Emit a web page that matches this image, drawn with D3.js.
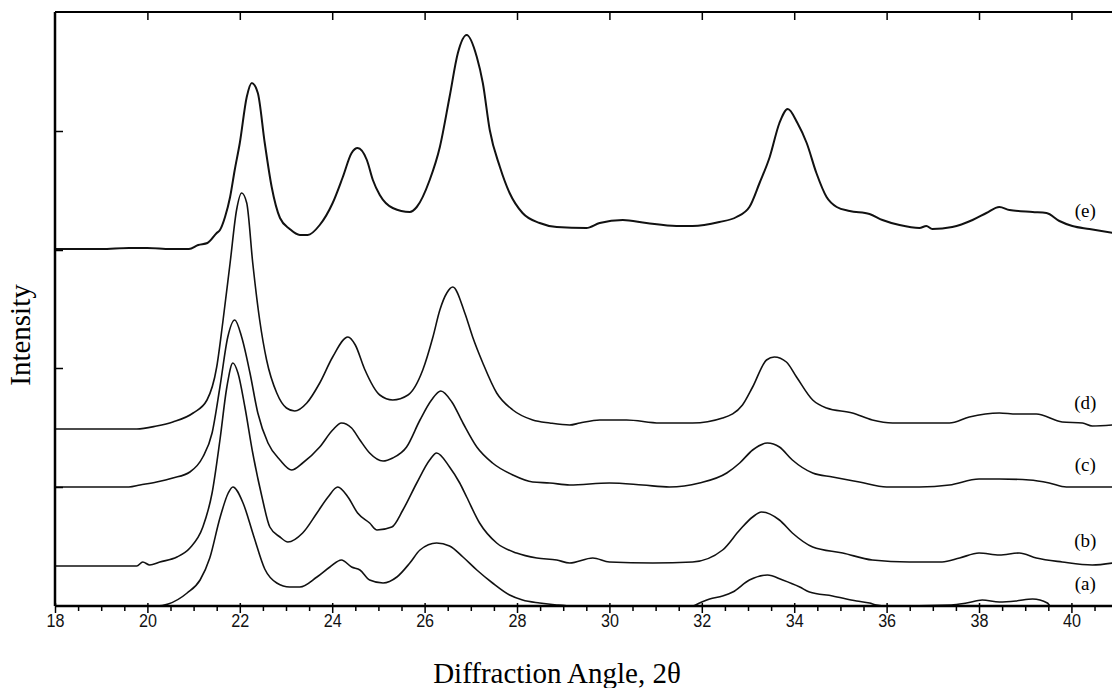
<!DOCTYPE html>
<html>
<head>
<meta charset="utf-8">
<script src="https://cdn.jsdelivr.net/npm/d3@7"></script>
<style>
  body { margin: 0; background: #fff; }
  svg { display: block; }
</style>
</head>
<body>
<div id="chart"></div>
<script>
// XRD patterns, [2theta, intensity above own baseline] (a.u.)
const patternA = [[18.0,0],[20.2,0],[20.45,2],[20.86,13],[21.14,26],[21.35,48],[21.57,88],[21.75,113],[21.85,119],[22.07,103],[22.3,70],[22.54,37],[22.8,23],[23.08,19],[23.3,19],[23.67,29],[23.95,39],[24.2,46],[24.42,39],[24.6,36],[24.81,26],[25.1,23],[25.4,29],[25.68,43],[25.9,56],[26.26,63],[26.54,60],[26.83,49],[27.13,36],[27.47,23],[27.84,11],[28.12,6],[28.49,3],[28.86,1],[29.2,0],[31.8,0],[31.95,3],[32.17,7],[32.45,10],[32.67,14],[33.03,26],[33.42,31],[33.75,26],[34.12,19],[34.33,14],[34.83,10],[35.35,5],[35.63,3],[35.78,1],[36.0,0],[37.4,1],[37.73,3],[38.07,6],[38.44,4],[38.8,5],[39.16,7],[39.48,3],[39.55,0],[40.9,0]];
const patternB = [[18.0,0],[19.77,0],[19.9,4],[20.05,1],[20.27,4],[20.64,9],[20.92,18],[21.2,39],[21.4,73],[21.57,126],[21.72,179],[21.85,203],[21.96,193],[22.11,159],[22.28,113],[22.48,69],[22.65,39],[22.87,29],[23.04,24],[23.36,33],[23.67,53],[23.91,69],[24.12,79],[24.34,69],[24.55,53],[24.81,43],[24.97,36],[25.29,39],[25.53,56],[25.83,83],[26.11,106],[26.26,113],[26.54,99],[26.76,83],[26.91,69],[27.19,43],[27.56,23],[27.99,13],[28.43,8],[28.86,6],[29.14,3],[29.64,8],[30.0,4],[30.94,3],[31.8,4],[32.45,16],[32.82,36],[33.1,49],[33.29,54],[33.68,46],[33.96,33],[34.4,19],[35.05,13],[35.69,6],[36.49,4],[37.2,4],[37.58,8],[38.0,13],[38.44,11],[38.87,13],[39.24,8],[39.8,4],[40.45,1],[40.9,3]];
const patternC = [[18.0,0],[19.6,0],[19.84,2],[20.2,5],[20.55,9],[20.92,15],[21.2,30],[21.4,54],[21.57,100],[21.74,150],[21.89,167],[22.04,150],[22.22,114],[22.39,74],[22.61,44],[22.87,27],[23.12,17],[23.36,24],[23.73,40],[24.01,57],[24.2,64],[24.42,59],[24.6,47],[24.81,34],[25.1,26],[25.31,29],[25.61,40],[25.9,67],[26.15,87],[26.35,96],[26.59,85],[26.83,64],[27.13,40],[27.47,24],[27.91,12],[28.34,5],[28.71,4],[29.14,2],[30.0,4],[30.72,2],[31.3,0],[31.95,4],[32.54,14],[32.82,24],[33.1,37],[33.42,44],[33.68,40],[33.96,27],[34.4,14],[34.83,10],[35.41,5],[36.0,0],[36.71,0],[37.36,2],[38.0,8],[38.44,8],[39.09,7],[39.52,4],[39.89,0],[40.9,0]];
const patternD = [[18.0,0],[19.0,0],[19.77,0],[20.2,3],[20.55,7],[20.99,16],[21.29,29],[21.5,62],[21.63,106],[21.79,166],[21.93,219],[22.04,236],[22.15,226],[22.28,166],[22.43,109],[22.58,69],[22.8,36],[23.01,21],[23.19,18],[23.45,26],[23.73,46],[24.01,72],[24.34,92],[24.5,84],[24.7,60],[25.03,34],[25.31,29],[25.64,34],[25.96,59],[26.18,92],[26.33,119],[26.48,136],[26.61,142],[26.87,116],[27.04,92],[27.26,66],[27.56,36],[27.91,19],[28.34,9],[28.71,6],[29.14,4],[29.36,6],[29.79,9],[30.37,9],[31.09,6],[31.8,6],[32.45,11],[32.88,24],[33.1,42],[33.4,69],[33.57,72],[33.83,67],[34.05,52],[34.4,29],[34.7,21],[35.26,16],[35.69,9],[36.13,6],[36.71,6],[37.36,6],[37.79,12],[38.44,16],[38.81,15],[39.24,15],[39.8,7],[40.24,6],[40.45,3],[40.9,4]];
const patternE = [[18.0,0],[19.0,0],[19.6,1],[20.0,1],[20.5,0],[20.9,0],[21.1,4],[21.3,6],[21.5,16],[21.57,19],[21.68,32],[21.79,52],[21.89,79],[22.0,106],[22.15,152],[22.26,166],[22.39,156],[22.54,106],[22.69,62],[22.87,31],[23.08,20],[23.3,14],[23.47,14],[23.73,24],[24.01,46],[24.23,72],[24.42,96],[24.55,101],[24.75,89],[24.88,69],[25.03,54],[25.31,41],[25.68,37],[25.83,42],[26.11,69],[26.33,102],[26.54,152],[26.72,196],[26.91,214],[27.13,192],[27.26,166],[27.41,119],[27.63,82],[27.84,56],[28.12,36],[28.49,26],[28.86,22],[29.5,21],[29.79,26],[30.29,29],[30.8,26],[31.45,23],[31.8,23],[32.38,27],[32.75,32],[33.03,42],[33.25,66],[33.47,92],[33.68,126],[33.86,140],[34.07,126],[34.27,106],[34.48,76],[34.7,52],[34.92,42],[35.2,38],[35.63,35],[35.91,29],[36.28,24],[36.71,21],[36.86,23],[36.99,20],[37.42,22],[37.86,29],[38.16,36],[38.44,42],[38.66,39],[39.16,37],[39.46,36],[39.74,28],[40.02,23],[40.39,20],[40.9,16]];

const patterns = [patternA, patternB, patternC, patternD, patternE];
const sampleLabels = ['(a)', '(b)', '(c)', '(d)', '(e)'];
const stackOffsets = [0, 40, 119, 177, 357];

const xTickValues = d3.range(18, 41, 2);
const yTickValues = [119, 238, 356, 475];

const W = 1112, H = 688;
const plotLeft = 55, plotRight = 1113, plotTop = 12, plotBottom = 606;

const x = d3.scaleLinear().domain([18, 40.9]).range([plotLeft, plotRight]);
const y = d3.scaleLinear().domain([0, 594]).range([plotBottom, plotTop]);

const svg = d3.select('#chart').append('svg')
  .attr('width', W)
  .attr('height', H);

const line = d3.line()
  .x(d => x(d[0]))
  .y(d => y(d[1]))
  .curve(d3.curveMonotoneX);

// curves
patterns.forEach((p, i) => {
  const pts = p.map(d => [d[0], d[1] + stackOffsets[i]]);
  svg.append('path')
    .datum(pts)
    .attr('fill', 'none')
    .attr('stroke', '#111')
    .attr('stroke-width', i === 4 ? 2 : 1.6)
    .attr('stroke-linejoin', 'round')
    .attr('d', line);

  const last = pts[pts.length - 1];
  svg.append('text')
    .attr('x', x(40.3))
    .attr('y', y(last[1]) - 23)
    .attr('dy', '0.35em')
    .attr('text-anchor', 'middle')
    .style('font-family', '"Liberation Serif", "Times New Roman", serif')
    .style('font-size', '19px')
    .text(sampleLabels[i]);
});

// bottom axis, minor ticks every 0.5 deg
const xAxis = d3.axisBottom(x)
  .tickValues(d3.range(18, 41, 0.5))
  .tickSize(5)
  .tickFormat(d => d % 2 === 0 ? d : '');

const gx = svg.append('g')
  .attr('transform', `translate(0,${plotBottom})`)
  .call(xAxis);
gx.select('.domain').attr('d', `M${plotLeft},0H${W}`).attr('stroke-width', 2.5);
gx.selectAll('.tick line').attr('stroke-width', 1.5)
  .filter(d => d % 2 === 0).attr('y1', -3).attr('y2', 7);
gx.selectAll('.tick text')
  .attr('y', 8)
  .attr('transform', 'scale(0.85,1)')
  .style('font-family', '"Liberation Sans", Arial, sans-serif')
  .style('font-size', '19px')
  .attr('fill', '#111');

// left axis with inward ticks
const yAxis = d3.axisLeft(y).tickValues(yTickValues).tickSize(-8).tickFormat('');
const gy = svg.append('g')
  .attr('transform', `translate(${plotLeft},0)`)
  .call(yAxis);
gy.select('.domain').attr('d', `M0,${plotTop}V${plotBottom}`).attr('stroke-width', 2.5);
gy.selectAll('.tick line').attr('stroke-width', 1.5);

// top frame with inward ticks
const gt = svg.append('g')
  .attr('transform', `translate(0,${plotTop})`)
  .call(d3.axisTop(x).tickValues(xTickValues.filter(v => v > 18)).tickSize(-8).tickFormat(''));
gt.select('.domain').attr('d', `M${plotLeft},0H${W}`).attr('stroke-width', 2);
gt.selectAll('.tick line').attr('stroke-width', 1.5);

// axis titles
svg.append('text')
  .attr('x', 557)
  .attr('y', 683)
  .attr('text-anchor', 'middle')
  .style('font-family', '"Liberation Serif", "Times New Roman", serif')
  .style('font-size', '29px')
  .text('Diffraction Angle, 2\u03b8');

svg.append('text')
  .attr('transform', 'translate(30,335) rotate(-90)')
  .attr('text-anchor', 'middle')
  .style('font-family', '"Liberation Serif", "Times New Roman", serif')
  .style('font-size', '29px')
  .text('Intensity');
</script>
</body>
</html>
